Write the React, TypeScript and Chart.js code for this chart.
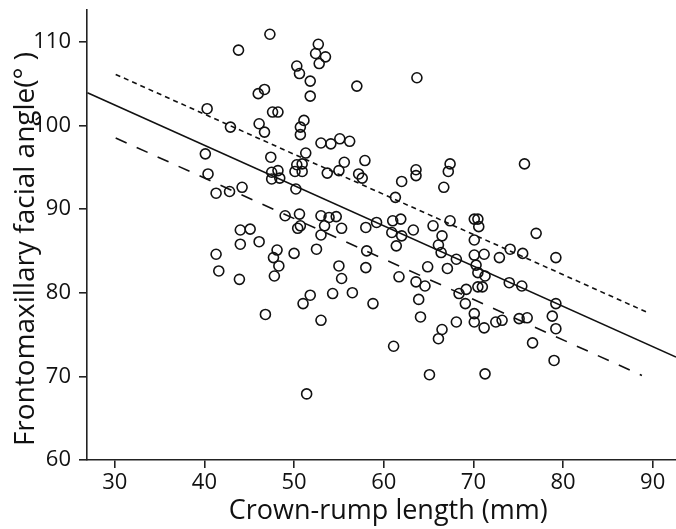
import React, { useEffect, useRef } from "react";
import { Chart, registerables } from "chart.js";

Chart.register(...registerables);

const xTickValues = [30, 40, 50, 60, 70, 80, 90];
const yTickValues = [60, 70, 80, 90, 100, 110];

const crl = [
  47.3, 43.8, 46.7, 46.0, 40.3, 47.6, 48.2, 42.9, 46.1, 46.7, 40.1, 47.4,
  52.7, 52.4, 53.5, 52.8, 50.3, 50.6, 51.8, 57.0, 63.7, 51.8, 51.1, 50.7, 50.7, 53.0, 54.1, 55.1, 56.2, 51.3,
  40.4, 48.2, 47.5, 48.4, 47.5, 41.3, 42.8, 44.2, 49.0, 44.0, 45.1, 44.0, 46.1, 41.3, 48.1, 47.7, 48.3, 41.6, 47.8, 43.9, 46.8,
  55.6, 57.9, 50.3, 50.9, 50.1, 50.9, 53.7, 55.0, 57.2, 57.6, 63.6, 63.6, 67.4, 67.2, 62.0, 66.7, 61.3,
  50.2, 50.6, 50.7, 50.4, 53.0, 53.9, 54.7, 53.4, 55.3, 53.0, 58.0, 59.2, 61.0, 61.9, 60.9, 62.0, 61.4,
  63.3, 65.5, 67.4, 66.5, 66.1, 66.4, 68.1, 67.1, 64.9, 70.1, 70.5, 70.6, 70.1, 70.1, 70.3,
  52.5, 50.0, 58.1, 55.0, 58.0, 55.3, 61.7, 63.6, 64.6, 51.8, 51.0, 54.3, 56.5, 58.8, 63.9, 68.4, 69.2, 69.1, 70.5,
  70.1, 70.1, 53.0, 64.1, 68.1, 66.5, 66.1, 61.1, 65.1, 51.4,
  75.7, 77.0, 71.2, 72.9, 74.1, 75.5, 79.2, 70.5, 71.3, 74.0, 75.4, 71.0, 79.2,
  71.2, 72.5, 73.2, 75.1, 76.0, 78.8, 79.2, 76.6, 79.0, 71.3,
];

const fmfAngle = [
  110.9, 109.0, 104.3, 103.8, 102.0, 101.6, 101.6, 99.8, 100.2, 99.2, 96.6, 96.2,
  109.7, 108.6, 108.2, 107.4, 107.1, 106.2, 105.3, 104.7, 105.7, 103.5, 100.6, 99.8, 98.9, 97.9, 97.8, 98.4, 98.1, 96.7,
  94.2, 94.6, 94.4, 93.7, 93.6, 91.9, 92.1, 92.6, 89.2, 87.5, 87.6, 85.8, 86.1, 84.6, 85.1, 84.2, 83.2, 82.6, 82.0, 81.6, 77.4,
  95.6, 95.8, 95.3, 95.4, 94.5, 94.5, 94.3, 94.6, 94.2, 93.7, 94.7, 94.0, 95.4, 94.5, 93.3, 92.6, 91.4,
  92.4, 89.4, 88.0, 87.7, 89.2, 89.0, 89.1, 88.0, 87.7, 86.9, 87.8, 88.4, 88.6, 88.8, 87.2, 86.8, 85.6,
  87.5, 88.0, 88.6, 86.8, 85.7, 84.8, 84.0, 82.9, 83.1, 88.8, 88.8, 87.9, 86.3, 84.5, 83.3,
  85.2, 84.7, 85.0, 83.2, 83.0, 81.7, 81.9, 81.3, 80.8, 79.7, 78.7, 79.9, 80.0, 78.7, 79.2, 79.9, 80.4, 78.7, 80.7,
  77.5, 76.5, 76.7, 77.1, 76.5, 75.6, 74.5, 73.6, 70.2, 67.9,
  95.4, 87.1, 84.6, 84.2, 85.2, 84.7, 84.2, 82.4, 82.0, 81.2, 80.8, 80.7, 78.7,
  75.8, 76.5, 76.7, 76.9, 77.0, 77.2, 75.7, 74.0, 71.9, 70.3,
];

const fitX = [26.95, 92.6];
const fitY = [103.9, 72.3];
const upperX = [30.1, 89.5];
const upperY = [106.1, 77.6];
const lowerX = [30.1, 88.8];
const lowerY = [98.5, 70.1];

const pts = (xs: number[], ys: number[]) => xs.map((x, i) => ({ x, y: ys[i] }));

export default function App() {
  const ref = useRef<HTMLCanvasElement>(null);
  useEffect(() => {
    if (!ref.current) return;
    const font = "'Open Sans', 'Noto Sans', sans-serif";
    const chart = new Chart(ref.current, {
      type: "scatter",
      data: {
        datasets: [
          {
            type: "line",
            data: pts(fitX, fitY),
            borderColor: "#111",
            borderWidth: 1.6,
            pointRadius: 0,
            fill: false,
          },
          {
            type: "line",
            data: pts(upperX, upperY),
            borderColor: "#111",
            borderWidth: 1.6,
            borderDash: [5, 4],
            pointRadius: 0,
            fill: false,
          },
          {
            type: "line",
            data: pts(lowerX, lowerY),
            borderColor: "#111",
            borderWidth: 1.6,
            borderDash: [12, 11],
            pointRadius: 0,
            fill: false,
          },
          {
            data: pts(crl, fmfAngle),
            pointRadius: 5,
            pointBorderWidth: 1.6,
            pointBorderColor: "#111",
            pointBackgroundColor: "rgba(0,0,0,0)",
            showLine: false,
          },
        ],
      },
      options: {
        animation: false,
        responsive: false,
        events: [],
        layout: { autoPadding: false, padding: { top: 10, right: 0, left: 0, bottom: 0 } },
        plugins: { legend: { display: false }, tooltip: { enabled: false } },
        scales: {
          x: {
            type: "linear",
            min: 26.9,
            max: 92.6,
            afterBuildTicks: (s: any) => {
              s.ticks = xTickValues.map((v) => ({ value: v }));
            },
            afterFit: (s: any) => {
              s.height = 69;
              s.paddingLeft = 0;
              s.paddingRight = 0;
            },
            border: { display: true, color: "#222", width: 1.6 },
            grid: { display: true, drawOnChartArea: false, drawTicks: true, tickLength: 8, color: "#222", lineWidth: 1.6 },
            ticks: { color: "#111", font: { family: font, size: 22 }, padding: 2, maxRotation: 0 },
            title: {
              display: true,
              text: "\u2002Crown-rump length (mm)",
              color: "#111",
              font: { family: font, size: 27 },
              padding: { top: 0, bottom: 1 },
            },
          },
          y: {
            type: "linear",
            min: 60,
            max: 113.8,
            afterBuildTicks: (s: any) => {
              s.ticks = yTickValues.map((v) => ({ value: v }));
            },
            afterFit: (s: any) => {
              s.width = 87;
              s.paddingTop = 0;
              s.paddingBottom = 0;
            },
            border: { display: true, color: "#222", width: 1.6 },
            grid: { display: true, drawOnChartArea: false, drawTicks: true, tickLength: 8, color: "#222", lineWidth: 1.6 },
            ticks: { color: "#111", font: { family: font, size: 22 }, padding: 8 },
            title: {
              display: true,
              text: "Frontomaxillary facial angle(° )\u2002\u2002",
              color: "#111",
              font: { family: font, size: 28 },
              padding: { top: 9, bottom: 0 },
            },
          },
        },
      },
    });
    return () => chart.destroy();
  }, []);
  return (
    <div style={{ position: "absolute", left: 0, top: 0, width: 676, height: 529, background: "#fff" }}>
      <canvas ref={ref} width={676} height={529} />
    </div>
  );
}
